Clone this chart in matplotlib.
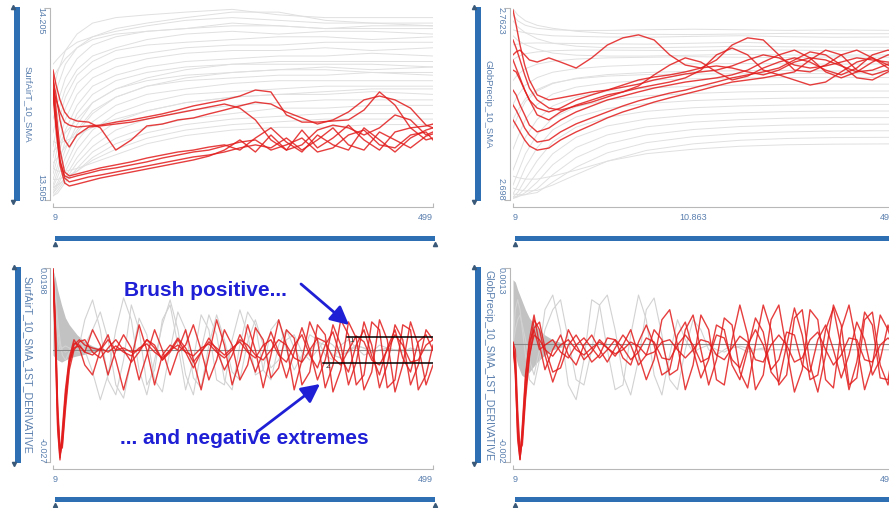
import matplotlib.pyplot as plt
from matplotlib.patches import Rectangle
from matplotlib.lines import Line2D

plt.rcParams['font.family'] = ['Liberation Sans', 'DejaVu Sans']

W, H = 889, 508

# sample positions (day index)
x_smooth = [9, 15, 25, 40, 60, 90, 130, 180, 240, 300, 360, 420, 499]
x_red = [9, 13, 18, 24, 30, 40, 55, 70, 90, 110, 130, 150, 170, 190, 210, 230, 250, 270,
         290, 310, 330, 350, 370, 390, 410, 430, 450, 470, 490, 499]
x_deriv = [9, 12, 15, 18, 21, 25, 30, 36, 43, 50, 60, 70, 80, 90, 100, 110, 120, 130, 140,
           150, 160, 170, 180, 190, 200, 210, 220, 230, 240, 250, 260, 270, 280, 290, 300,
           310, 320, 330, 340, 350, 360, 370, 380, 390, 400, 410, 420, 430, 440, 450, 460,
           470, 480, 490, 499]
x_env = [9, 12, 15, 20, 25, 30, 40, 50, 60, 75]

# ---- SurfAirT_10_SMA ----
sat_grey = [
    [13.90, 13.97, 14.05, 14.11, 14.15, 14.17, 14.18, 14.19, 14.20, 14.18, 14.17, 14.17, 14.17],
    [13.85, 13.92, 14.00, 14.06, 14.10, 14.13, 14.15, 14.17, 14.19, 14.19, 14.16, 14.15, 14.15],
    [13.80, 13.86, 13.95, 14.02, 14.07, 14.10, 14.12, 14.13, 14.14, 14.14, 14.13, 14.14, 14.14],
    [13.75, 13.82, 13.91, 13.98, 14.03, 14.06, 14.09, 14.11, 14.12, 14.11, 14.12, 14.12, 14.11],
    [13.70, 13.78, 13.88, 13.96, 14.01, 14.05, 14.07, 14.08, 14.09, 14.10, 14.10, 14.09, 14.10],
    [13.66, 13.74, 13.84, 13.93, 13.98, 14.02, 14.04, 14.06, 14.07, 14.07, 14.08, 14.08, 14.08],
    [13.62, 13.70, 13.80, 13.89, 13.95, 13.99, 14.02, 14.04, 14.05, 14.05, 14.06, 14.05, 14.06],
    [13.60, 13.66, 13.76, 13.85, 13.92, 13.96, 13.99, 14.01, 14.02, 14.03, 14.03, 14.04, 14.03],
    [13.58, 13.63, 13.72, 13.82, 13.89, 13.94, 13.97, 13.99, 14.00, 14.01, 14.01, 14.01, 14.01],
    [13.56, 13.61, 13.69, 13.78, 13.86, 13.91, 13.94, 13.96, 13.97, 13.98, 13.99, 13.98, 13.99],
    [13.55, 13.59, 13.66, 13.75, 13.82, 13.88, 13.92, 13.94, 13.95, 13.96, 13.96, 13.97, 13.96],
    [13.54, 13.57, 13.63, 13.72, 13.79, 13.85, 13.89, 13.91, 13.93, 13.94, 13.94, 13.94, 13.94],
    [13.53, 13.56, 13.61, 13.69, 13.76, 13.82, 13.86, 13.89, 13.90, 13.91, 13.92, 13.92, 13.92],
    [13.53, 13.55, 13.59, 13.66, 13.73, 13.79, 13.83, 13.86, 13.88, 13.89, 13.89, 13.90, 13.89],
    [13.52, 13.54, 13.58, 13.64, 13.70, 13.76, 13.80, 13.83, 13.85, 13.86, 13.87, 13.87, 13.87],
    [13.52, 13.53, 13.57, 13.62, 13.68, 13.73, 13.77, 13.80, 13.82, 13.84, 13.84, 13.85, 13.85],
    [13.55, 13.56, 13.58, 13.61, 13.66, 13.71, 13.75, 13.78, 13.80, 13.81, 13.82, 13.82, 13.82],
    [13.58, 13.58, 13.59, 13.61, 13.65, 13.69, 13.73, 13.76, 13.78, 13.79, 13.80, 13.80, 13.80],
    [13.62, 13.61, 13.61, 13.62, 13.64, 13.67, 13.71, 13.74, 13.76, 13.77, 13.77, 13.78, 13.78],
    [13.95, 13.98, 14.02, 14.06, 14.09, 14.11, 14.12, 14.13, 14.15, 14.14, 14.13, 14.13, 14.13],
    [14.00, 14.02, 14.05, 14.08, 14.10, 14.12, 14.14, 14.16, 14.17, 14.16, 14.15, 14.15, 14.14],
    [13.72, 13.71, 13.72, 13.74, 13.77, 13.80, 13.83, 13.86, 13.88, 13.89, 13.90, 13.91, 13.91],
    [13.68, 13.70, 13.75, 13.80, 13.86, 13.91, 13.95, 13.98, 14.00, 14.00, 14.00, 14.00, 13.99],
    [13.64, 13.66, 13.70, 13.76, 13.83, 13.88, 13.92, 13.95, 13.97, 13.98, 13.98, 13.97, 13.97],
]
sat_red = [
    [13.906, 13.870, 13.826, 13.789, 13.778, 13.771, 13.775, 13.778, 13.789, 13.797, 13.808, 13.819,
     13.833, 13.848, 13.859, 13.870, 13.884, 13.906, 13.899, 13.815, 13.789, 13.789, 13.793, 13.797,
     13.833, 13.899, 13.851, 13.768, 13.775, 13.782],
    [13.943, 13.888, 13.797, 13.724, 13.698, 13.742, 13.771, 13.775, 13.782, 13.789, 13.800, 13.811,
     13.822, 13.833, 13.844, 13.855, 13.840, 13.797, 13.724, 13.687, 13.706, 13.760, 13.778, 13.768,
     13.742, 13.768, 13.815, 13.797, 13.742, 13.753],
    [13.979, 13.924, 13.870, 13.826, 13.804, 13.793, 13.789, 13.768, 13.687, 13.724, 13.775, 13.782,
     13.797, 13.804, 13.819, 13.833, 13.848, 13.862, 13.855, 13.826, 13.804, 13.782, 13.797, 13.826,
     13.870, 13.884, 13.870, 13.840, 13.778, 13.768],
    [13.924, 13.797, 13.651, 13.585, 13.571, 13.578, 13.589, 13.596, 13.607, 13.618, 13.629, 13.640,
     13.651, 13.662, 13.669, 13.680, 13.695, 13.706, 13.695, 13.731, 13.687, 13.724, 13.768, 13.706,
     13.687, 13.753, 13.724, 13.695, 13.738, 13.746],
    [13.888, 13.760, 13.633, 13.567, 13.556, 13.563, 13.574, 13.585, 13.596, 13.607, 13.618, 13.629,
     13.640, 13.651, 13.665, 13.687, 13.724, 13.680, 13.742, 13.687, 13.760, 13.695, 13.731, 13.778,
     13.724, 13.687, 13.753, 13.768, 13.724, 13.731],
    [13.961, 13.833, 13.687, 13.607, 13.593, 13.600, 13.611, 13.622, 13.633, 13.644, 13.658, 13.669,
     13.680, 13.687, 13.698, 13.706, 13.687, 13.731, 13.768, 13.716, 13.680, 13.742, 13.706, 13.687,
     13.768, 13.724, 13.680, 13.731, 13.760, 13.768],
    [13.906, 13.778, 13.644, 13.593, 13.585, 13.593, 13.603, 13.614, 13.622, 13.633, 13.644, 13.658,
     13.669, 13.680, 13.687, 13.702, 13.716, 13.724, 13.687, 13.706, 13.731, 13.680, 13.695, 13.742,
     13.760, 13.706, 13.695, 13.742, 13.753, 13.724],
]

# ---- GlobPrecip_10_SMA ----
gp_grey = [
    [2.7600, 2.7580, 2.7565, 2.7555, 2.7550, 2.7548, 2.7548, 2.7550, 2.7552, 2.7550, 2.7548, 2.7550, 2.7548],
    [2.7550, 2.7545, 2.7540, 2.7535, 2.7530, 2.7528, 2.7526, 2.7525, 2.7528, 2.7530, 2.7527, 2.7525, 2.7526],
    [2.7500, 2.7502, 2.7505, 2.7506, 2.7505, 2.7504, 2.7503, 2.7502, 2.7505, 2.7508, 2.7504, 2.7502, 2.7503],
    [2.7450, 2.7460, 2.7470, 2.7476, 2.7480, 2.7482, 2.7482, 2.7481, 2.7480, 2.7483, 2.7482, 2.7480, 2.7481],
    [2.7380, 2.7400, 2.7420, 2.7435, 2.7445, 2.7452, 2.7456, 2.7458, 2.7460, 2.7458, 2.7457, 2.7459, 2.7458],
    [2.7300, 2.7330, 2.7365, 2.7390, 2.7408, 2.7420, 2.7428, 2.7433, 2.7436, 2.7437, 2.7436, 2.7435, 2.7436],
    [2.7220, 2.7260, 2.7310, 2.7345, 2.7370, 2.7388, 2.7400, 2.7407, 2.7411, 2.7413, 2.7414, 2.7412, 2.7413],
    [2.7150, 2.7190, 2.7250, 2.7300, 2.7335, 2.7358, 2.7372, 2.7381, 2.7386, 2.7389, 2.7390, 2.7391, 2.7390],
    [2.7080, 2.7120, 2.7190, 2.7250, 2.7295, 2.7325, 2.7344, 2.7355, 2.7361, 2.7365, 2.7367, 2.7368, 2.7368],
    [2.7030, 2.7070, 2.7135, 2.7200, 2.7255, 2.7292, 2.7315, 2.7329, 2.7337, 2.7342, 2.7344, 2.7345, 2.7345],
    [2.7000, 2.7030, 2.7090, 2.7155, 2.7215, 2.7258, 2.7286, 2.7303, 2.7313, 2.7318, 2.7321, 2.7322, 2.7323],
    [2.6990, 2.7005, 2.7050, 2.7112, 2.7175, 2.7224, 2.7257, 2.7277, 2.7289, 2.7295, 2.7298, 2.7300, 2.7300],
    [2.6985, 2.6995, 2.7020, 2.7072, 2.7135, 2.7190, 2.7228, 2.7251, 2.7265, 2.7272, 2.7276, 2.7278, 2.7278],
    [2.6985, 2.6990, 2.7005, 2.7040, 2.7098, 2.7156, 2.7198, 2.7225, 2.7241, 2.7249, 2.7254, 2.7256, 2.7256],
    [2.6990, 2.6992, 2.6998, 2.7018, 2.7065, 2.7122, 2.7168, 2.7198, 2.7216, 2.7226, 2.7231, 2.7233, 2.7234],
    [2.7000, 2.6998, 2.6998, 2.7005, 2.7040, 2.7090, 2.7138, 2.7172, 2.7192, 2.7203, 2.7208, 2.7211, 2.7212],
    [2.7020, 2.7015, 2.7010, 2.7012, 2.7030, 2.7065, 2.7110, 2.7146, 2.7168, 2.7180, 2.7186, 2.7189, 2.7190],
    [2.7060, 2.7055, 2.7050, 2.7050, 2.7060, 2.7080, 2.7110, 2.7135, 2.7150, 2.7160, 2.7165, 2.7167, 2.7168],
    [2.7620, 2.7600, 2.7580, 2.7565, 2.7555, 2.7545, 2.7538, 2.7535, 2.7534, 2.7536, 2.7538, 2.7537, 2.7537],
    [2.7580, 2.7560, 2.7540, 2.7520, 2.7505, 2.7495, 2.7490, 2.7490, 2.7492, 2.7495, 2.7493, 2.7492, 2.7491],
    [2.7530, 2.7515, 2.7500, 2.7485, 2.7472, 2.7465, 2.7462, 2.7462, 2.7465, 2.7468, 2.7466, 2.7465, 2.7466],
    [2.7250, 2.7280, 2.7320, 2.7350, 2.7372, 2.7386, 2.7395, 2.7400, 2.7402, 2.7403, 2.7404, 2.7403, 2.7403],
]
gp_red = [
    [2.7616, 2.7566, 2.7499, 2.7432, 2.7382, 2.7332, 2.7315, 2.7322, 2.7332, 2.7342, 2.7348, 2.7358,
     2.7368, 2.7382, 2.7392, 2.7402, 2.7409, 2.7415, 2.7429, 2.7449, 2.7466, 2.7456, 2.7432, 2.7422,
     2.7429, 2.7442, 2.7456, 2.7449, 2.7442, 2.7439],
    [2.7466, 2.7476, 2.7482, 2.7466, 2.7449, 2.7442, 2.7456, 2.7442, 2.7422, 2.7456, 2.7499, 2.7523,
     2.7533, 2.7516, 2.7466, 2.7432, 2.7422, 2.7449, 2.7499, 2.7523, 2.7516, 2.7466, 2.7415, 2.7409,
     2.7432, 2.7466, 2.7482, 2.7456, 2.7422, 2.7415],
    [2.7415, 2.7409, 2.7382, 2.7348, 2.7315, 2.7265, 2.7248, 2.7275, 2.7298, 2.7315, 2.7332, 2.7342,
     2.7355, 2.7365, 2.7375, 2.7389, 2.7415, 2.7466, 2.7489, 2.7466, 2.7415, 2.7399, 2.7409, 2.7449,
     2.7482, 2.7466, 2.7415, 2.7399, 2.7415, 2.7422],
    [2.7348, 2.7332, 2.7298, 2.7265, 2.7231, 2.7208, 2.7221, 2.7248, 2.7275, 2.7295, 2.7315, 2.7328,
     2.7342, 2.7355, 2.7365, 2.7375, 2.7382, 2.7389, 2.7399, 2.7415, 2.7442, 2.7466, 2.7482, 2.7456,
     2.7409, 2.7389, 2.7409, 2.7442, 2.7466, 2.7466],
    [2.7298, 2.7281, 2.7255, 2.7221, 2.7198, 2.7174, 2.7181, 2.7208, 2.7235, 2.7255, 2.7275, 2.7295,
     2.7312, 2.7325, 2.7338, 2.7348, 2.7362, 2.7375, 2.7389, 2.7399, 2.7409, 2.7422, 2.7449, 2.7476,
     2.7466, 2.7432, 2.7389, 2.7382, 2.7409, 2.7415],
    [2.7248, 2.7231, 2.7208, 2.7181, 2.7161, 2.7147, 2.7154, 2.7181, 2.7208, 2.7231, 2.7255, 2.7275,
     2.7291, 2.7308, 2.7322, 2.7335, 2.7348, 2.7362, 2.7375, 2.7382, 2.7389, 2.7399, 2.7382, 2.7365,
     2.7375, 2.7409, 2.7442, 2.7456, 2.7432, 2.7422],
    [2.7516, 2.7489, 2.7449, 2.7399, 2.7355, 2.7315, 2.7288, 2.7281, 2.7295, 2.7308, 2.7325, 2.7342,
     2.7362, 2.7399, 2.7432, 2.7456, 2.7442, 2.7409, 2.7382, 2.7395, 2.7422, 2.7442, 2.7456, 2.7442,
     2.7415, 2.7399, 2.7422, 2.7466, 2.7482, 2.7476],
    [2.7449, 2.7422, 2.7389, 2.7348, 2.7315, 2.7288, 2.7275, 2.7288, 2.7315, 2.7332, 2.7348, 2.7365,
     2.7382, 2.7392, 2.7399, 2.7409, 2.7422, 2.7429, 2.7422, 2.7409, 2.7399, 2.7415, 2.7442, 2.7456,
     2.7449, 2.7429, 2.7409, 2.7415, 2.7435, 2.7442],
]

# ---- SurfAirT_10_SMA_1ST_DERIVATIVE ----
sat_d_env_hi = [0.0193, 0.0174, 0.0145, 0.0109, 0.0078, 0.0061, 0.0037, 0.0020, 0.0010, 0.0000]
sat_d_env_lo = [-0.0012, -0.0019, -0.0024, -0.0029, -0.0024, -0.0019, -0.0014, -0.0010, -0.0005, 0.0000]
sat_d_grey = [
    [0.0198, 0.0121, 0.0049, 0.0012, 0.0000, -0.0005, 0.0000, 0.0005, 0.0012,
     0.0073, 0.0121, 0.0049, -0.0072, -0.0108, -0.0024, 0.0109, 0.0049, -0.0084, -0.0048,
     0.0073, 0.0109, 0.0012, -0.0096, -0.0024, 0.0085, 0.0049, -0.0072, -0.0084, 0.0025,
     0.0097, 0.0037, -0.0060, -0.0048, 0.0049, 0.0073, 0.0000, -0.0048, -0.0012, 0.0037,
     0.0025, -0.0012, -0.0024, 0.0012, 0.0025, 0.0005, -0.0012, -0.0005, 0.0012, 0.0005,
     0.0000, -0.0005, 0.0005, 0.0000, 0.0000,
     0.0000],
    [0.0198, 0.0145, 0.0073, 0.0025, -0.0012, -0.0024, -0.0005, 0.0012, 0.0025,
     0.0000, -0.0053, -0.0120, -0.0060, 0.0049, 0.0126, 0.0073, -0.0048, -0.0108, -0.0024,
     0.0061, 0.0121, 0.0049, -0.0060, -0.0108, 0.0000, 0.0085, 0.0037, -0.0072, -0.0096,
     0.0012, 0.0092, 0.0061, -0.0048, -0.0072, 0.0012, 0.0049, 0.0005, -0.0029, -0.0005,
     0.0020, 0.0012, -0.0012, -0.0019, 0.0000, 0.0012, 0.0005, -0.0005, 0.0000, 0.0005,
     0.0000, 0.0000, 0.0000, 0.0000, 0.0000,
     0.0000],
    [0.0198, 0.0097, 0.0025, 0.0000, 0.0005, 0.0010, 0.0005, 0.0000, -0.0005,
     0.0012, 0.0049, 0.0092, 0.0025, -0.0084, -0.0116, -0.0024, 0.0077, 0.0037, -0.0072,
     -0.0101, 0.0000, 0.0092, 0.0049, -0.0067, -0.0091, 0.0012, 0.0085, 0.0025, -0.0053,
     -0.0072, 0.0020, 0.0073, 0.0012, -0.0043, -0.0024, 0.0025, 0.0037, -0.0005, -0.0024,
     0.0000, 0.0025, 0.0012, -0.0012, -0.0005, 0.0010, 0.0005, -0.0005, 0.0000, 0.0000,
     0.0000, 0.0000, 0.0000, 0.0000, 0.0000,
     0.0000],
]
sat_d_red = [
    [0.0193, 0.0073, -0.0145, -0.0253, -0.0229, -0.0132, -0.0036, 0.0012, 0.0025,
     0.0012, 0.0005, 0.0000, 0.0037, -0.0024, -0.0096, -0.0024, 0.0061, 0.0000, -0.0084,
     -0.0012, 0.0012, 0.0000, 0.0049, -0.0024, -0.0096, -0.0012, 0.0073, 0.0012, -0.0084,
     -0.0024, 0.0061, 0.0000, -0.0091, -0.0012, 0.0073, 0.0012, -0.0096, -0.0024, 0.0068,
     0.0025, -0.0091, -0.0036, 0.0073, 0.0037, -0.0084, -0.0060, 0.0068, 0.0049, -0.0091,
     -0.0072, 0.0061, 0.0049, -0.0096, -0.0060,
     0.0012],
    [0.0188, 0.0025, -0.0181, -0.0260, -0.0205, -0.0108, -0.0024, 0.0017, 0.0012,
     -0.0005, 0.0049, 0.0012, -0.0060, 0.0000, 0.0037, 0.0005, -0.0072, -0.0012, 0.0049,
     0.0000, -0.0060, -0.0005, 0.0012, 0.0061, 0.0000, -0.0072, -0.0024, 0.0049, 0.0012,
     -0.0072, -0.0036, 0.0054, 0.0025, -0.0067, -0.0043, 0.0049, 0.0029, -0.0084, -0.0053,
     0.0061, 0.0037, -0.0101, -0.0048, 0.0068, 0.0029, -0.0096, -0.0053, 0.0073, 0.0025,
     -0.0101, -0.0036, 0.0068, 0.0012, -0.0084,
     -0.0036],
    [0.0198, 0.0049, -0.0157, -0.0241, -0.0217, -0.0120, -0.0029, 0.0005, 0.0010,
     -0.0005, -0.0012, 0.0005, -0.0005, 0.0010, -0.0005, -0.0014, 0.0005, 0.0015, -0.0005,
     -0.0019, 0.0000, 0.0012, -0.0005, -0.0014, 0.0005, 0.0015, -0.0005, -0.0019, 0.0000,
     0.0025, 0.0012, -0.0012, -0.0024, 0.0000, 0.0025, 0.0012, -0.0019, -0.0029, 0.0000,
     0.0029, 0.0020, -0.0019, -0.0036, 0.0000, 0.0034, 0.0020, -0.0024, -0.0036, 0.0000,
     0.0037, 0.0012, -0.0029, -0.0024, 0.0012,
     0.0025],
    [0.0181, 0.0012, -0.0193, -0.0265, -0.0193, -0.0096, -0.0019, 0.0025, 0.0005,
     -0.0036, -0.0060, 0.0000, 0.0025, 0.0000, 0.0005, -0.0005, 0.0000, 0.0025, 0.0012,
     -0.0024, -0.0005, 0.0025, -0.0005, -0.0043, -0.0005, 0.0029, 0.0000, -0.0048, -0.0012,
     0.0037, 0.0000, -0.0053, -0.0005, 0.0044, -0.0005, -0.0067, -0.0005, 0.0054, 0.0000,
     -0.0072, -0.0024, 0.0061, 0.0012, -0.0084, -0.0029, 0.0068, 0.0012, -0.0091, -0.0036,
     0.0061, 0.0025, -0.0084, -0.0036, 0.0049,
     0.0025],
    [0.0193, 0.0061, -0.0132, -0.0236, -0.0236, -0.0145, -0.0048, 0.0000, 0.0020,
     0.0025, -0.0005, -0.0019, 0.0005, 0.0025, 0.0000, -0.0029, -0.0005, 0.0025, 0.0005,
     -0.0024, 0.0000, 0.0029, 0.0005, -0.0029, -0.0005, 0.0020, 0.0005, -0.0012, 0.0005,
     0.0020, -0.0005, -0.0019, 0.0012, 0.0025, -0.0012, -0.0029, 0.0012, 0.0037, -0.0012,
     -0.0043, 0.0012, 0.0044, -0.0019, -0.0053, 0.0012, 0.0049, -0.0014, -0.0060, 0.0005,
     0.0049, -0.0019, -0.0053, 0.0020, 0.0037,
     0.0000],
]
brush_levels = [0.0032, -0.0031]
brush_from = [388, 357]
brush_names = ['1', '2']

# ---- GlobPrecip_10_SMA_1ST_DERIVATIVE ----
gp_d_env_hi = [0.00110, 0.00106, 0.00093, 0.00076, 0.00059, 0.00045, 0.00028, 0.00016, 0.00008, 0.00001]
gp_d_env_lo = [-0.00009, -0.00018, -0.00035, -0.00052, -0.00057, -0.00047, -0.00030, -0.00018, -0.00009, -0.00003]
gp_d_grey = [
    [-0.00001, 0.00025, 0.00042, 0.00050, 0.00033, 0.00008, -0.00026, -0.00052, -0.00009,
     0.00059, 0.00084, 0.00025, -0.00069, -0.00094, -0.00026, 0.00076, 0.00067, -0.00009, -0.00077,
     -0.00069, 0.00016, 0.00084, 0.00042, -0.00052, -0.00086, -0.00018, 0.00042, 0.00008, -0.00013,
     -0.00006, -0.00001, -0.00009, -0.00013, -0.00006, -0.00003, -0.00006, -0.00009, -0.00009, -0.00009,
     -0.00009, -0.00009, -0.00009, -0.00009, -0.00009, -0.00009, -0.00009, -0.00009, -0.00009, -0.00009,
     -0.00009, -0.00009, -0.00009, -0.00009, -0.00009,
     -0.00009],
    [-0.00001, 0.00059, 0.00076, 0.00059, 0.00025, -0.00018, -0.00060, -0.00069, -0.00026,
     0.00025, 0.00059, 0.00076, 0.00008, -0.00060, -0.00069, -0.00009, 0.00067, 0.00084, 0.00025,
     -0.00052, -0.00086, -0.00026, 0.00059, 0.00079, 0.00016, -0.00060, -0.00077, -0.00009, 0.00042,
     0.00025, -0.00009, -0.00018, -0.00009, -0.00001, -0.00006, -0.00013, -0.00009, -0.00006, -0.00009,
     -0.00009, -0.00009, -0.00009, -0.00009, -0.00009, -0.00009, -0.00009, -0.00009, -0.00009, -0.00009,
     -0.00009, -0.00009, -0.00009, -0.00009, -0.00009,
     -0.00009],
]
gp_d_red = [
    [-0.00001, -0.00026, -0.00128, -0.00193, -0.00162, -0.00086, -0.00009, 0.00042, 0.00025,
     -0.00018, -0.00064, -0.00026, 0.00025, -0.00001, -0.00026, -0.00013, 0.00008, -0.00006, -0.00020,
     -0.00001, 0.00025, -0.00018, -0.00060, -0.00026, 0.00042, 0.00059, -0.00001, -0.00077, -0.00035,
     0.00050, 0.00025, -0.00060, -0.00069, 0.00008, 0.00067, 0.00016, -0.00077, -0.00052, 0.00042,
     0.00067, -0.00009, -0.00081, -0.00043, 0.00059, 0.00042, -0.00060, -0.00074, 0.00025, 0.00067,
     -0.00001, -0.00077, -0.00035, 0.00050, 0.00025,
     -0.00009],
    [0.00003, -0.00052, -0.00154, -0.00196, -0.00145, -0.00060, 0.00008, 0.00050, -0.00001,
     -0.00043, -0.00009, 0.00016, -0.00018, -0.00035, -0.00001, 0.00016, -0.00009, -0.00030, -0.00006,
     0.00016, -0.00001, -0.00035, -0.00018, 0.00025, 0.00008, -0.00052, -0.00043, 0.00025, 0.00050,
     -0.00009, -0.00069, -0.00026, 0.00045, 0.00033, -0.00047, -0.00074, -0.00001, 0.00067, 0.00025,
     -0.00069, -0.00052, 0.00045, 0.00059, -0.00035, -0.00081, -0.00018, 0.00067, 0.00033, -0.00069,
     -0.00057, 0.00042, 0.00055, -0.00035, -0.00069,
     -0.00001],
    [-0.00004, -0.00035, -0.00142, -0.00188, -0.00154, -0.00077, -0.00018, 0.00016, 0.00008,
     -0.00009, -0.00020, -0.00001, 0.00008, -0.00009, -0.00018, -0.00006, 0.00004, -0.00006, -0.00016,
     -0.00009, 0.00004, -0.00003, -0.00018, -0.00013, 0.00004, 0.00008, -0.00009, -0.00023, -0.00009,
     0.00008, 0.00004, -0.00018, -0.00026, -0.00006, 0.00014, 0.00004, -0.00026, -0.00030, -0.00001,
     0.00016, -0.00001, -0.00030, -0.00023, 0.00008, 0.00021, -0.00009, -0.00035, -0.00018, 0.00011,
     0.00008, -0.00026, -0.00030, -0.00001, 0.00011,
     -0.00001],
    [0.00004, -0.00009, -0.00111, -0.00179, -0.00171, -0.00094, -0.00023, 0.00028, 0.00038,
     -0.00006, -0.00047, -0.00040, -0.00001, 0.00016, -0.00006, -0.00030, -0.00018, 0.00011, 0.00008,
     -0.00023, -0.00035, 0.00004, 0.00033, -0.00001, -0.00052, -0.00043, 0.00016, 0.00038, -0.00009,
     -0.00057, -0.00026, 0.00033, 0.00025, -0.00035, -0.00060, -0.00009, 0.00045, 0.00021, -0.00047,
     -0.00064, -0.00001, 0.00062, 0.00016, -0.00060, -0.00052, 0.00025, 0.00062, -0.00006, -0.00077,
     -0.00030, 0.00055, 0.00033, -0.00057, -0.00060,
     0.00008],
    [-0.00003, -0.00043, -0.00162, -0.00196, -0.00137, -0.00052, 0.00004, 0.00025, -0.00009,
     -0.00001, 0.00008, -0.00013, -0.00023, -0.00001, 0.00011, -0.00006, -0.00023, -0.00009, 0.00008,
     -0.00006, -0.00026, -0.00013, 0.00011, 0.00004, -0.00023, -0.00026, -0.00001, 0.00016, -0.00001,
     -0.00030, -0.00023, 0.00016, 0.00011, -0.00026, -0.00040, -0.00001, 0.00025, -0.00001, -0.00043,
     -0.00026, 0.00021, 0.00016, -0.00035, -0.00047, 0.00008, 0.00033, -0.00009, -0.00057, -0.00018,
     0.00038, 0.00008, -0.00052, -0.00026, 0.00033,
     -0.00009],
]

BAR = '#2d6fb2'
LABEL = '#5a7fae'
AXIS = '#b8b8b8'
GREY_TOP = '#e0e0e0'
GREY_D = '#d2d2d2'
RED = '#e21c1c'
NOTE = '#1f1fd6'

fig = plt.figure(figsize=(W / 100, H / 100), dpi=100)


def fx(x):
    return x / W


def fy(y):
    return 1 - y / H


def make_panel(box, ylo, yhi, lo_txt, hi_txt, name, name_size, bar_x, name_x, tick_x,
               bar_y, mid_label=None):
    l, t, r, b = box
    ax = fig.add_axes([fx(l), fy(b), (r - l) / W, (b - t) / H])
    ax.set_facecolor('none')
    ax.set_xlim(9, 499)
    ax.set_ylim(ylo, yhi)
    ax.spines[['top', 'right']].set_visible(False)
    ax.spines['left'].set_position(('outward', 2))
    ax.spines['bottom'].set_position(('outward', 5))
    for s in ('left', 'bottom'):
        ax.spines[s].set_color(AXIS)
        ax.spines[s].set_linewidth(0.8)
    ax.set_yticks([ylo, yhi])
    ax.set_yticklabels([])
    ax.tick_params(axis='y', direction='out', length=4, color=AXIS, width=0.8)
    ax.set_xticks([9, 499])
    ax.set_xticklabels(['9', '499'])
    for lbl, ha in zip(ax.get_xticklabels(), ['left', 'right']):
        lbl.set_horizontalalignment(ha)
    ax.tick_params(axis='x', direction='in', length=3, color=AXIS, width=0.8, pad=4,
                   labelsize=6.5, labelcolor=LABEL)
    if mid_label:
        ax.set_xticks([240], minor=True)
        ax.set_xticklabels([mid_label], minor=True)
        ax.tick_params(axis='x', which='minor', direction='in', length=0, pad=4,
                       labelsize=6.5, labelcolor=LABEL)

    # rotated value labels and axis name
    fig.text(fx(tick_x), fy(t - 1), hi_txt, rotation=-90, ha='center', va='top',
             fontsize=6.5, color=LABEL)
    fig.text(fx(tick_x), fy(b + 1), lo_txt, rotation=-90, ha='center', va='bottom',
             fontsize=6.5, color=LABEL)
    fig.text(fx(name_x), fy((t + b) / 2), name, rotation=-90, ha='center', va='center',
             fontsize=name_size, color=LABEL)

    # blue range bars
    fig.add_artist(Rectangle((fx(bar_x - 3), fy(b + 1)), 6 / W, (b - t + 2) / H,
                             transform=fig.transFigure, color=BAR, lw=0))
    fig.add_artist(Line2D([fx(bar_x - 4)], [fy(t - 1)], marker='^', ms=3, color='#3a5878',
                          transform=fig.transFigure))
    fig.add_artist(Line2D([fx(bar_x - 4)], [fy(b + 2)], marker='v', ms=3, color='#3a5878',
                          transform=fig.transFigure))
    fig.add_artist(Rectangle((fx(l + 2), fy(bar_y + 2.5)), (r - l) / W, 5 / H,
                             transform=fig.transFigure, color=BAR, lw=0))
    for xx in (l + 2, r + 2):
        fig.add_artist(Line2D([fx(xx)], [fy(bar_y + 6)], marker='^', ms=3, color='#3a5878',
                              transform=fig.transFigure))
    return ax


# top-left
ax1 = make_panel((53, 8, 433, 200), 13.505, 14.205, '13.505', '14.205', 'SurfAirT_10_SMA', 6.8,
                 17, 28, 41, 238)
for g in sat_grey:
    ax1.plot(x_smooth, g, color=GREY_TOP, lw=0.7)
for rl in sat_red:
    ax1.plot(x_red, rl, color=RED, lw=1.0, alpha=0.85)

# top-right
ax2 = make_panel((513, 8, 895, 200), 2.698, 2.7623, '2.698', '2.7623', 'GlobPrecip_10_SMA', 6.8,
                 478, 488, 501, 238, mid_label='10.863')
for g in gp_grey:
    ax2.plot(x_smooth, g, color=GREY_TOP, lw=0.7)
for rl in gp_red:
    ax2.plot(x_red, rl, color=RED, lw=1.0, alpha=0.85)

# bottom-left
ax3 = make_panel((53, 268, 433, 462), -0.027, 0.0198, '-0.027', '0.0198',
                 'SurfAirT_10_SMA_1ST_DERIVATIVE', 7.6, 18, 27, 42, 499)
ax3.fill_between(x_env, sat_d_env_lo, sat_d_env_hi, color='#c2c2c2', lw=0)
for g in sat_d_grey:
    ax3.plot(x_deriv, g, color=GREY_D, lw=0.8)
ax3.axhline(0, color='#8a8a8a', lw=0.8)
for rl in sat_d_red:
    ax3.plot(x_deriv, rl, color=RED, lw=1.0, alpha=0.85)
for lev, x0, nm in zip(brush_levels, brush_from, brush_names):
    ax3.plot([x0, 499], [lev, lev], color='black', lw=1.1)
    ax3.text(x0 + 3, lev, nm, fontsize=6, color='#333333', ha='left', va='top')

# bottom-right
ax4 = make_panel((513, 268, 895, 462), -0.002, 0.0013, '-0.002', '0.0013',
                 'GlobPrecip_10_SMA_1ST_DERIVATIVE', 7.6, 478, 488, 501, 499)
ax4.fill_between(x_env, gp_d_env_lo, gp_d_env_hi, color='#c2c2c2', lw=0)
for g in gp_d_grey:
    ax4.plot(x_deriv, g, color=GREY_D, lw=0.8)
ax4.axhline(0, color='#8a8a8a', lw=0.8)
for rl in gp_d_red:
    ax4.plot(x_deriv, rl, color=RED, lw=1.0, alpha=0.85)

# annotations
fig.text(fx(205), fy(291), 'Brush positive...', fontsize=15, fontweight='bold', color=NOTE,
         ha='center', va='center')
fig.text(fx(244), fy(439), '... and negative extremes', fontsize=15, fontweight='bold',
         color=NOTE, ha='center', va='center')
arrow = dict(arrowstyle='-|>,head_length=0.8,head_width=0.4', color=NOTE, lw=2,
             mutation_scale=14, shrinkA=0, shrinkB=0)
ax3.annotate('', xy=(fx(349), fy(325)), xytext=(fx(301), fy(284)),
             xycoords='figure fraction', textcoords='figure fraction', arrowprops=arrow)
ax3.annotate('', xy=(fx(320), fy(384)), xytext=(fx(257), fy(432)),
             xycoords='figure fraction', textcoords='figure fraction', arrowprops=arrow)

fig.savefig('out.png', dpi=100, facecolor='white')
